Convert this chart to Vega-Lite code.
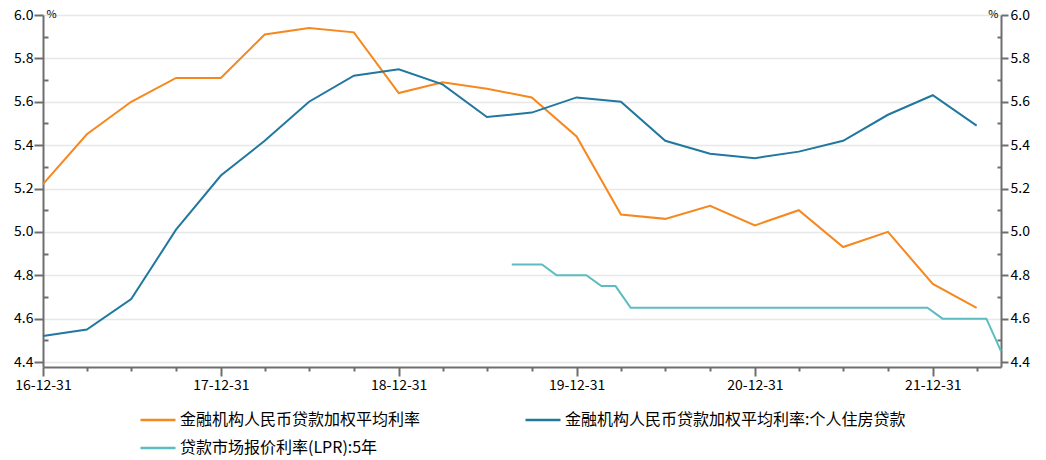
{
  "$schema": "https://vega.github.io/schema/vega-lite/v6.json",
  "width": 958,
  "height": 352,
  "autosize": {"type": "none"},
  "padding": {"left": 43, "top": 15, "right": 45, "bottom": 93},
  "background": "white",
  "config": {
    "view": {"stroke": null},
    "font": "Noto Sans CJK SC",
    "axis": {
      "labelFont": "Noto Sans CJK SC",
      "labelFontSize": 14,
      "labelColor": "#000000",
      "domainColor": "#6E6E6E",
      "domainWidth": 2,
      "tickColor": "#6E6E6E",
      "tickWidth": 2,
      "titleFont": "Noto Sans CJK SC",
      "titleFontSize": 11,
      "titleFontWeight": "normal",
      "titleColor": "#000000"
    }
  },
  "data": {
    "values": [
      {"date": "2016-12-31", "series": "金融机构人民币贷款加权平均利率", "value": 5.22},
      {"date": "2017-03-31", "series": "金融机构人民币贷款加权平均利率", "value": 5.45},
      {"date": "2017-06-30", "series": "金融机构人民币贷款加权平均利率", "value": 5.60},
      {"date": "2017-09-30", "series": "金融机构人民币贷款加权平均利率", "value": 5.71},
      {"date": "2017-12-31", "series": "金融机构人民币贷款加权平均利率", "value": 5.71},
      {"date": "2018-03-31", "series": "金融机构人民币贷款加权平均利率", "value": 5.91},
      {"date": "2018-06-30", "series": "金融机构人民币贷款加权平均利率", "value": 5.94},
      {"date": "2018-09-30", "series": "金融机构人民币贷款加权平均利率", "value": 5.92},
      {"date": "2018-12-31", "series": "金融机构人民币贷款加权平均利率", "value": 5.64},
      {"date": "2019-03-31", "series": "金融机构人民币贷款加权平均利率", "value": 5.69},
      {"date": "2019-06-30", "series": "金融机构人民币贷款加权平均利率", "value": 5.66},
      {"date": "2019-09-30", "series": "金融机构人民币贷款加权平均利率", "value": 5.62},
      {"date": "2019-12-31", "series": "金融机构人民币贷款加权平均利率", "value": 5.44},
      {"date": "2020-03-31", "series": "金融机构人民币贷款加权平均利率", "value": 5.08},
      {"date": "2020-06-30", "series": "金融机构人民币贷款加权平均利率", "value": 5.06},
      {"date": "2020-09-30", "series": "金融机构人民币贷款加权平均利率", "value": 5.12},
      {"date": "2020-12-31", "series": "金融机构人民币贷款加权平均利率", "value": 5.03},
      {"date": "2021-03-31", "series": "金融机构人民币贷款加权平均利率", "value": 5.10},
      {"date": "2021-06-30", "series": "金融机构人民币贷款加权平均利率", "value": 4.93},
      {"date": "2021-09-30", "series": "金融机构人民币贷款加权平均利率", "value": 5.00},
      {"date": "2021-12-31", "series": "金融机构人民币贷款加权平均利率", "value": 4.76},
      {"date": "2022-03-31", "series": "金融机构人民币贷款加权平均利率", "value": 4.65},
      {"date": "2016-12-31", "series": "金融机构人民币贷款加权平均利率:个人住房贷款", "value": 4.52},
      {"date": "2017-03-31", "series": "金融机构人民币贷款加权平均利率:个人住房贷款", "value": 4.55},
      {"date": "2017-06-30", "series": "金融机构人民币贷款加权平均利率:个人住房贷款", "value": 4.69},
      {"date": "2017-09-30", "series": "金融机构人民币贷款加权平均利率:个人住房贷款", "value": 5.01},
      {"date": "2017-12-31", "series": "金融机构人民币贷款加权平均利率:个人住房贷款", "value": 5.26},
      {"date": "2018-03-31", "series": "金融机构人民币贷款加权平均利率:个人住房贷款", "value": 5.42},
      {"date": "2018-06-30", "series": "金融机构人民币贷款加权平均利率:个人住房贷款", "value": 5.60},
      {"date": "2018-09-30", "series": "金融机构人民币贷款加权平均利率:个人住房贷款", "value": 5.72},
      {"date": "2018-12-31", "series": "金融机构人民币贷款加权平均利率:个人住房贷款", "value": 5.75},
      {"date": "2019-03-31", "series": "金融机构人民币贷款加权平均利率:个人住房贷款", "value": 5.68},
      {"date": "2019-06-30", "series": "金融机构人民币贷款加权平均利率:个人住房贷款", "value": 5.53},
      {"date": "2019-09-30", "series": "金融机构人民币贷款加权平均利率:个人住房贷款", "value": 5.55},
      {"date": "2019-12-31", "series": "金融机构人民币贷款加权平均利率:个人住房贷款", "value": 5.62},
      {"date": "2020-03-31", "series": "金融机构人民币贷款加权平均利率:个人住房贷款", "value": 5.60},
      {"date": "2020-06-30", "series": "金融机构人民币贷款加权平均利率:个人住房贷款", "value": 5.42},
      {"date": "2020-09-30", "series": "金融机构人民币贷款加权平均利率:个人住房贷款", "value": 5.36},
      {"date": "2020-12-31", "series": "金融机构人民币贷款加权平均利率:个人住房贷款", "value": 5.34},
      {"date": "2021-03-31", "series": "金融机构人民币贷款加权平均利率:个人住房贷款", "value": 5.37},
      {"date": "2021-06-30", "series": "金融机构人民币贷款加权平均利率:个人住房贷款", "value": 5.42},
      {"date": "2021-09-30", "series": "金融机构人民币贷款加权平均利率:个人住房贷款", "value": 5.54},
      {"date": "2021-12-31", "series": "金融机构人民币贷款加权平均利率:个人住房贷款", "value": 5.63},
      {"date": "2022-03-31", "series": "金融机构人民币贷款加权平均利率:个人住房贷款", "value": 5.49},
      {"date": "2019-08-20", "series": "贷款市场报价利率(LPR):5年", "value": 4.85},
      {"date": "2019-09-20", "series": "贷款市场报价利率(LPR):5年", "value": 4.85},
      {"date": "2019-10-21", "series": "贷款市场报价利率(LPR):5年", "value": 4.85},
      {"date": "2019-11-20", "series": "贷款市场报价利率(LPR):5年", "value": 4.80},
      {"date": "2019-12-20", "series": "贷款市场报价利率(LPR):5年", "value": 4.80},
      {"date": "2020-01-20", "series": "贷款市场报价利率(LPR):5年", "value": 4.80},
      {"date": "2020-02-20", "series": "贷款市场报价利率(LPR):5年", "value": 4.75},
      {"date": "2020-03-20", "series": "贷款市场报价利率(LPR):5年", "value": 4.75},
      {"date": "2020-04-20", "series": "贷款市场报价利率(LPR):5年", "value": 4.65},
      {"date": "2020-05-20", "series": "贷款市场报价利率(LPR):5年", "value": 4.65},
      {"date": "2020-06-22", "series": "贷款市场报价利率(LPR):5年", "value": 4.65},
      {"date": "2020-07-20", "series": "贷款市场报价利率(LPR):5年", "value": 4.65},
      {"date": "2020-08-20", "series": "贷款市场报价利率(LPR):5年", "value": 4.65},
      {"date": "2020-09-21", "series": "贷款市场报价利率(LPR):5年", "value": 4.65},
      {"date": "2020-10-20", "series": "贷款市场报价利率(LPR):5年", "value": 4.65},
      {"date": "2020-11-20", "series": "贷款市场报价利率(LPR):5年", "value": 4.65},
      {"date": "2020-12-21", "series": "贷款市场报价利率(LPR):5年", "value": 4.65},
      {"date": "2021-01-20", "series": "贷款市场报价利率(LPR):5年", "value": 4.65},
      {"date": "2021-02-20", "series": "贷款市场报价利率(LPR):5年", "value": 4.65},
      {"date": "2021-03-22", "series": "贷款市场报价利率(LPR):5年", "value": 4.65},
      {"date": "2021-04-20", "series": "贷款市场报价利率(LPR):5年", "value": 4.65},
      {"date": "2021-05-20", "series": "贷款市场报价利率(LPR):5年", "value": 4.65},
      {"date": "2021-06-21", "series": "贷款市场报价利率(LPR):5年", "value": 4.65},
      {"date": "2021-07-20", "series": "贷款市场报价利率(LPR):5年", "value": 4.65},
      {"date": "2021-08-20", "series": "贷款市场报价利率(LPR):5年", "value": 4.65},
      {"date": "2021-09-22", "series": "贷款市场报价利率(LPR):5年", "value": 4.65},
      {"date": "2021-10-20", "series": "贷款市场报价利率(LPR):5年", "value": 4.65},
      {"date": "2021-11-22", "series": "贷款市场报价利率(LPR):5年", "value": 4.65},
      {"date": "2021-12-20", "series": "贷款市场报价利率(LPR):5年", "value": 4.65},
      {"date": "2022-01-20", "series": "贷款市场报价利率(LPR):5年", "value": 4.60},
      {"date": "2022-02-21", "series": "贷款市场报价利率(LPR):5年", "value": 4.60},
      {"date": "2022-03-21", "series": "贷款市场报价利率(LPR):5年", "value": 4.60},
      {"date": "2022-04-20", "series": "贷款市场报价利率(LPR):5年", "value": 4.60},
      {"date": "2022-05-20", "series": "贷款市场报价利率(LPR):5年", "value": 4.45}
    ]
  },
  "encoding": {
    "x": {
      "field": "date",
      "type": "temporal",
      "scale": {"type": "utc", "domain": [1483142400000, 1653004800000], "nice": false},
      "axis": {
        "title": null,
        "orient": "bottom",
        "grid": false,
        "values": [1483142400000, 1490918400000, 1498780800000, 1506729600000, 1514678400000, 1522454400000, 1530316800000, 1538265600000, 1546214400000, 1553990400000, 1561852800000, 1569801600000, 1577750400000, 1585612800000, 1593475200000, 1601424000000, 1609372800000, 1617148800000, 1625011200000, 1632960000000, 1640908800000, 1648684800000],
        "labelExpr": "utcmonth(datum.value) == 11 ? utcFormat(datum.value, '%y-%m-%d') : ''",
        "labelAlign": "center",
        "labelPadding": 2,
        "labelFlush": false,
        "labelOverlap": false,
        "tickSize": {"condition": {"test": "utcmonth(datum.value) == 11", "value": 9}, "value": 4}
      }
    },
    "y": {
      "field": "value",
      "type": "quantitative",
      "scale": {"domain": [4.377, 6.0], "nice": false, "zero": false}
    }
  },
  "layer": [
    {
      "mark": {"type": "line", "strokeWidth": 2, "interpolate": "linear"},
      "encoding": {
        "color": {
          "field": "series",
          "type": "nominal",
          "scale": {
            "domain": ["金融机构人民币贷款加权平均利率", "金融机构人民币贷款加权平均利率:个人住房贷款", "贷款市场报价利率(LPR):5年"],
            "range": ["#F5881F", "#21789F", "#5CBDC0"]
          },
          "legend": {
            "title": null,
            "orient": "none",
            "legendX": 96,
            "legendY": 386,
            "columns": 2,
            "direction": "horizontal",
            "padding": 0,
            "symbolType": "stroke",
            "symbolSize": 1225,
            "symbolStrokeWidth": 2.5,
            "labelFont": "Noto Sans CJK SC",
            "labelFontSize": 16,
            "labelColor": "#000000",
            "labelOffset": 3,
            "labelLimit": 400,
            "columnPadding": 99,
            "rowPadding": 1
          }
        },
        "y": {
          "field": "value",
          "type": "quantitative",
          "scale": {"domain": [4.377, 6.0], "nice": false, "zero": false},
          "axis": {
            "orient": "left",
            "title": "%",
            "titleAngle": 0,
            "titleX": 3,
            "titleY": -1,
            "titleAlign": "left",
            "titleBaseline": "middle",
            "values": [4.4, 4.5, 4.6, 4.7, 4.8, 4.9, 5.0, 5.1, 5.2, 5.3, 5.4, 5.5, 5.6, 5.7, 5.8, 5.9, 6.0],
            "format": ".1f",
            "labelExpr": "round(datum.value * 10) % 2 == 0 ? datum.label : ''",
            "labelPadding": 1,
            "grid": true,
            "gridColor": "#E8E8E8",
            "gridWidth": 1.5,
            "gridOpacity": {"condition": {"test": "round(datum.value * 10) % 2 == 0", "value": 1}, "value": 0},
            "tickSize": {"condition": {"test": "round(datum.value * 10) % 2 == 0", "value": 9}, "value": -5}
          }
        }
      }
    },
    {
      "mark": {"type": "line", "strokeOpacity": 0, "strokeWidth": 1},
      "encoding": {
        "detail": {"field": "series", "type": "nominal"},
        "y": {
          "field": "value",
          "type": "quantitative",
          "scale": {"domain": [4.377, 6.0], "nice": false, "zero": false},
          "axis": {
            "orient": "right",
            "title": "%",
            "titleAngle": 0,
            "titleX": -3,
            "titleY": -1,
            "titleAlign": "right",
            "titleBaseline": "middle",
            "values": [4.4, 4.5, 4.6, 4.7, 4.8, 4.9, 5.0, 5.1, 5.2, 5.3, 5.4, 5.5, 5.6, 5.7, 5.8, 5.9, 6.0],
            "format": ".1f",
            "labelExpr": "round(datum.value * 10) % 2 == 0 ? datum.label : ''",
            "labelPadding": 2,
            "grid": false,
            "tickSize": {"condition": {"test": "round(datum.value * 10) % 2 == 0", "value": 7}, "value": -4}
          }
        }
      }
    }
  ],
  "resolve": {"axis": {"y": "independent"}}
}
